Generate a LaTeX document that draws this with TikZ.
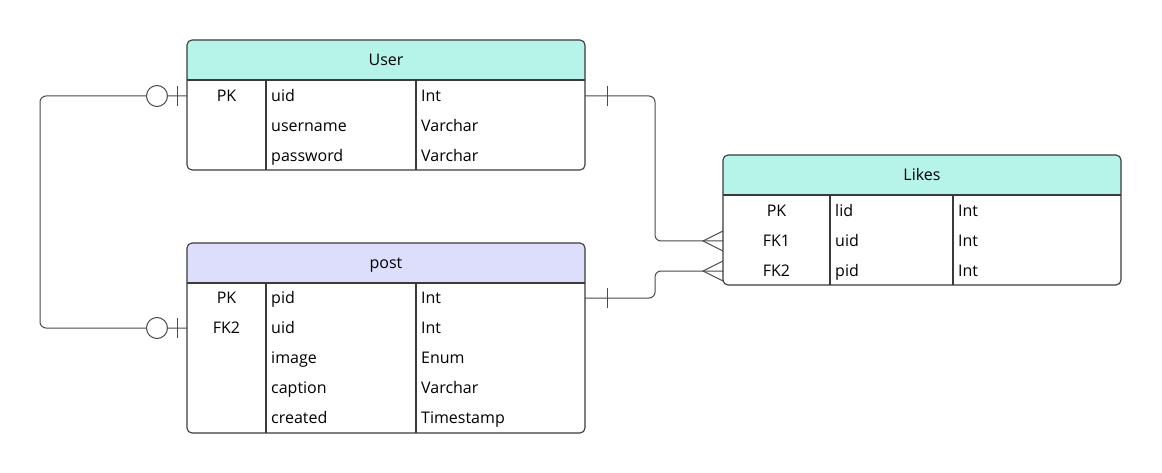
\documentclass[tikz,border=0pt]{standalone}
\usepackage{fontspec}
\setmainfont{Open Sans}
\definecolor{hdrteal}{HTML}{B6F4EA}
\definecolor{hdrlav}{HTML}{DDDEFC}
\definecolor{edgecol}{HTML}{3A3A3A}
\definecolor{conncol}{HTML}{4A4A50}
\tikzset{
  txt/.style={inner sep=0pt, font=\fontsize{16}{19}\selectfont, text=black},
  cell/.style={txt, anchor=base west},
  keycell/.style={txt, anchor=base},
  ttl/.style={txt, anchor=base},
  tbl/.style={draw=edgecol, line width=1.1pt, rounded corners=5pt},
  tblline/.style={draw=edgecol, line width=1.1pt},
  rel/.style={draw=conncol, line width=1pt, rounded corners=6pt},
  relmark/.style={draw=conncol, line width=1pt},
}
\begin{document}
\begin{tikzpicture}[x=1pt, y=-1pt]
\useasboundingbox (0,0) rectangle (1162,473);

% ---------- User table ----------
\begin{scope}
  \clip (187,40) rectangle (585,80);
  \fill[hdrteal, rounded corners=5pt] (187,40) rectangle (585,170);
\end{scope}
\draw[tbl] (187,40) rectangle (585,170);
\draw[tblline] (187,80) -- (585,80);
\draw[tblline] (266,80) -- (266,170);
\draw[tblline] (416,80) -- (416,170);
\node[ttl] (usertitle) at (386,65.7) {User};
\node[keycell] (userk1) at (226.5,101.7) {PK};
\node[cell] (usern1) at (271,101.7) {uid};
\node[cell] (usert1) at (421,101.7) {Int};
\node[cell] (usern2) at (271,131.7) {username};
\node[cell] (usert2) at (421,131.7) {Varchar};
\node[cell] (usern3) at (271,161.7) {password};
\node[cell] (usert3) at (421,161.7) {Varchar};
\coordinate (useruidL) at (187,96);
\coordinate (useruidR) at (585,96);

% ---------- post table ----------
\begin{scope}
  \clip (187,243) rectangle (585,283);
  \fill[hdrlav, rounded corners=5pt] (187,243) rectangle (585,433);
\end{scope}
\draw[tbl] (187,243) rectangle (585,433);
\draw[tblline] (187,283) -- (585,283);
\draw[tblline] (266,283) -- (266,433);
\draw[tblline] (416,283) -- (416,433);
\node[ttl] (posttitle) at (386,268.7) {post};
\node[keycell] (postk1) at (226.5,303.7) {PK};
\node[cell] (postn1) at (271,303.7) {pid};
\node[cell] (postt1) at (421,303.7) {Int};
\node[keycell] (postk2) at (226.5,333.7) {FK2};
\node[cell] (postn2) at (271,333.7) {uid};
\node[cell] (postt2) at (421,333.7) {Int};
\node[cell] (postn3) at (271,363.7) {image};
\node[cell] (postt3) at (421,363.7) {Enum};
\node[cell] (postn4) at (271,393.7) {caption};
\node[cell] (postt4) at (421,393.7) {Varchar};
\node[cell] (postn5) at (271,423.7) {created};
\node[cell] (postt5) at (421,423.7) {Timestamp};
\coordinate (postpidR) at (585,298);
\coordinate (postuidL) at (187,328);

% ---------- Likes table ----------
\begin{scope}
  \clip (723,155) rectangle (1121,195);
  \fill[hdrteal, rounded corners=5pt] (723,155) rectangle (1121,285);
\end{scope}
\draw[tbl] (723,155) rectangle (1121,285);
\draw[tblline] (723,195) -- (1121,195);
\draw[tblline] (830,195) -- (830,285);
\draw[tblline] (953,195) -- (953,285);
\node[ttl] (likestitle) at (922,180.7) {Likes};
\node[keycell] (likesk1) at (776.5,216.7) {PK};
\node[cell] (likesn1) at (835,216.7) {lid};
\node[cell] (likest1) at (958,216.7) {Int};
\node[keycell] (likesk2) at (776.5,246.7) {FK1};
\node[cell] (likesn2) at (835,246.7) {uid};
\node[cell] (likest2) at (958,246.7) {Int};
\node[keycell] (likesk3) at (776.5,276.7) {FK2};
\node[cell] (likesn3) at (835,276.7) {pid};
\node[cell] (likest3) at (958,276.7) {Int};
\coordinate (likesuidL) at (723,241);
\coordinate (likespidL) at (723,271);

% ---------- relation User.uid -- post.uid ----------
\draw[rel] (useruidL) -- (40,96) -- (40,328) -- (postuidL);
\draw[relmark, fill=white] (157,96) circle[radius=10.5pt];
\draw[relmark] (177,86) -- (177,106);
\draw[relmark, fill=white] (157,328) circle[radius=10.5pt];
\draw[relmark] (177,318) -- (177,338);

% ---------- relation User.uid -- Likes.uid ----------
\draw[rel] (useruidR) -- (655,96) -- (655,241) -- (likesuidL);
\draw[relmark] (607,86) -- (607,106);
\draw[relmark] (723,231) -- (703,241) -- (723,251);

% ---------- relation post.pid -- Likes.pid ----------
\draw[rel] (postpidR) -- (655,298) -- (655,271) -- (likespidL);
\draw[relmark] (607,288) -- (607,308);
\draw[relmark] (723,261) -- (703,271) -- (723,281);
\end{tikzpicture}
\end{document}
